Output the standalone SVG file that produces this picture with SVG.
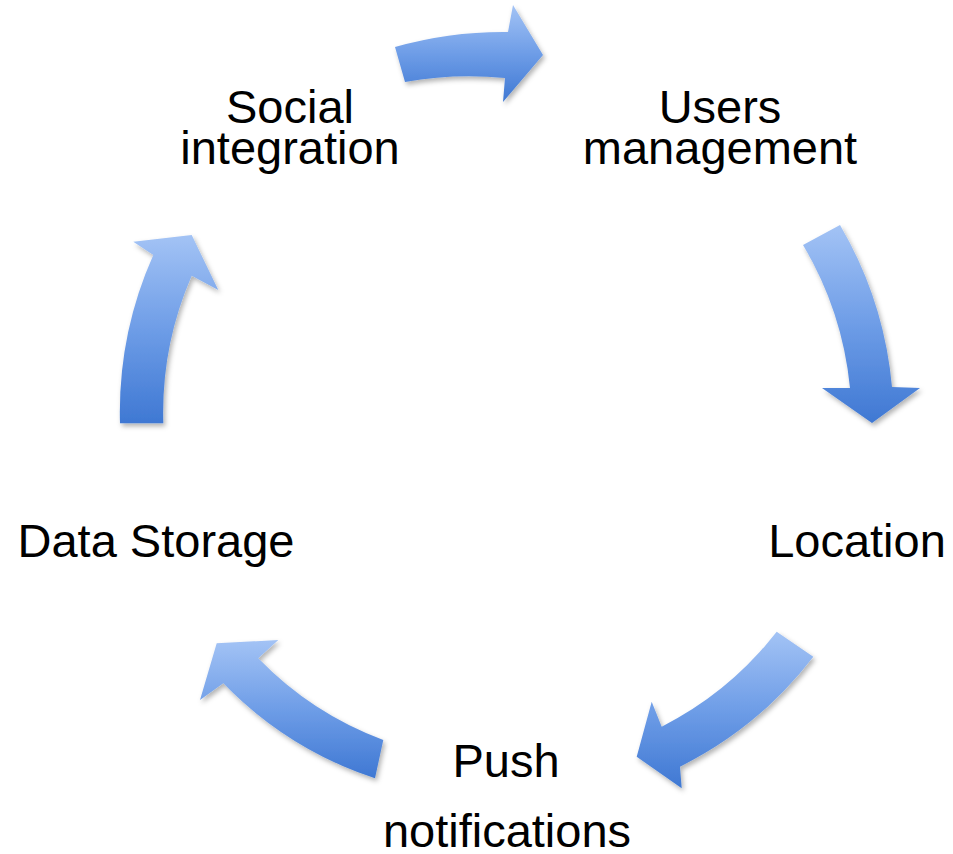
<svg xmlns="http://www.w3.org/2000/svg" width="953" height="854" viewBox="0 0 953 854">
  <style>
    .lbl { font-family: "Liberation Sans", Arial, Helvetica, sans-serif; font-size: 47px; fill: #000000; text-anchor: middle; }
    .arrow { fill: url(#blueGrad); filter: url(#shadow); }
  </style>
  <defs>
    <linearGradient id="blueGrad" x1="0" y1="0" x2="0" y2="1">
      <stop offset="0" stop-color="#a3c3f5"/>
      <stop offset="0.5" stop-color="#6e9de7"/>
      <stop offset="1" stop-color="#3f78d3"/>
    </linearGradient>
    <filter id="shadow" x="-20%" y="-20%" width="140%" height="140%">
      <feDropShadow dx="2" dy="3" stdDeviation="2.5" flood-color="#000000" flood-opacity="0.3"/>
    </filter>
  </defs>
  <rect x="0" y="0" width="953" height="854" fill="#ffffff"/>

  <g id="connectors">
    <path id="arrow-social-users" class="arrow" d="M 395,47 A 396 396 0 0 1 508,32 L 513,5 L 543,55 L 503,102 L 505,78 A 355 355 0 0 0 405,82 Z"/>
    <path id="arrow-users-location" class="arrow" d="M 840,225 A 389 389 0 0 1 892,387 L 920,388 L 872,423 L 822,388 L 850,388 A 346 346 0 0 0 803,245 Z"/>
    <path id="arrow-location-push" class="arrow" d="M 813.3,656.7 A 383 383 0 0 1 680,766.7 L 681.7,788.3 L 636.7,756.7 L 651.7,701.7 L 661.7,726.7 A 339 339 0 0 0 776.7,631.7 Z"/>
    <path id="arrow-push-data" class="arrow" d="M 375,778.3 A 377 377 0 0 1 223.3,683.3 L 200,700 L 216.7,643.3 L 278.3,640 L 258.3,658.3 A 338 338 0 0 0 383.3,740 Z"/>
    <path id="arrow-data-social" class="arrow" d="M 120,423.3 A 387 387 0 0 1 153.3,255 L 133.3,241.7 L 191.7,235 L 218.3,290 L 191.7,275.7 A 344 344 0 0 0 163.3,423.3 Z"/>
  </g>

  <g id="node-users-management">
    <text class="lbl" x="720" y="123">Users</text>
    <text class="lbl" x="720" y="164">management</text>
  </g>
  <g id="node-location">
    <text class="lbl" x="857" y="557">Location</text>
  </g>
  <g id="node-push-notifications">
    <text class="lbl" x="506" y="777">Push</text>
    <text class="lbl" x="507" y="847">notifications</text>
  </g>
  <g id="node-data-storage">
    <text class="lbl" x="156" y="557">Data Storage</text>
  </g>
  <g id="node-social-integration">
    <text class="lbl" x="290" y="123">Social</text>
    <text class="lbl" x="290" y="164">integration</text>
  </g>
</svg>
